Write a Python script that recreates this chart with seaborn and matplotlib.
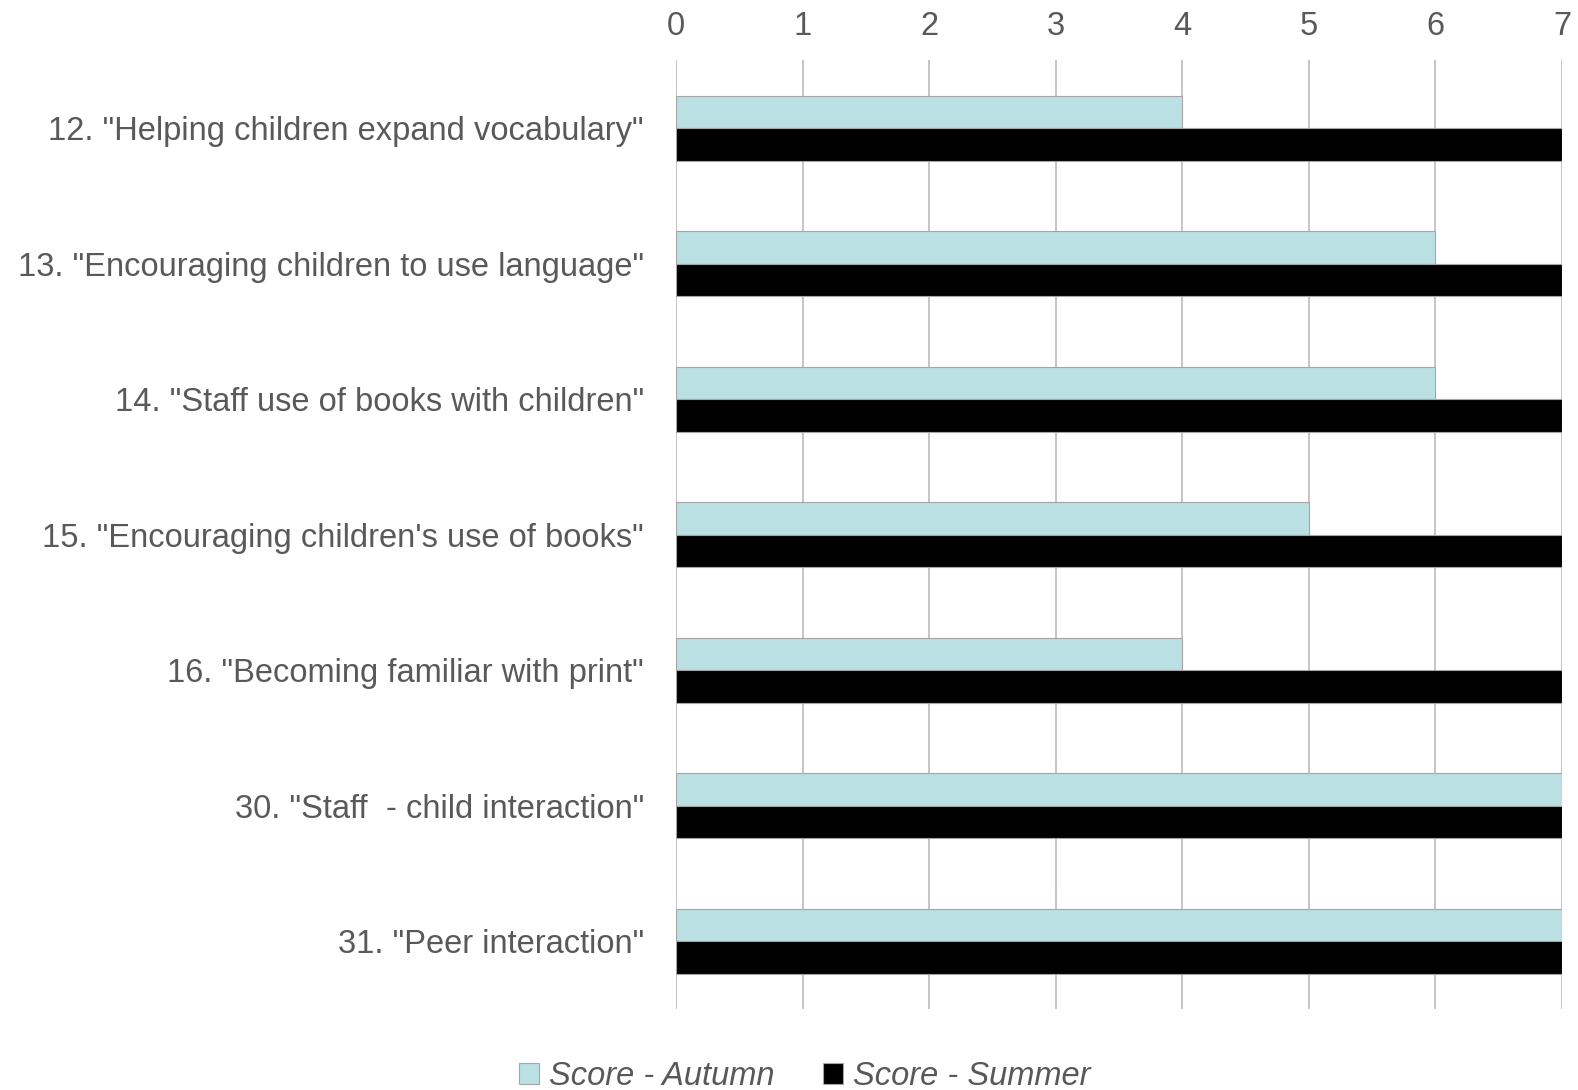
import matplotlib
matplotlib.use("Agg")
import matplotlib.pyplot as plt
import seaborn as sns
import pandas as pd

items = [
    '12. "Helping children expand vocabulary"',
    '13. "Encouraging children to use language"',
    '14. "Staff use of books with children"',
    '15. "Encouraging children\'s use of books"',
    '16. "Becoming familiar with print"',
    '30. "Staff  - child interaction"',
    '31. "Peer interaction"',
]
score_autumn = [4, 6, 6, 5, 4, 7, 7]
score_summer = [7, 7, 7, 7, 7, 7, 7]
series = ["Score - Autumn", "Score - Summer"]
x_ticks = [0, 1, 2, 3, 4, 5, 6, 7]

df = pd.DataFrame({
    "item": items * 2,
    "score": score_autumn + score_summer,
    "series": [series[0]] * len(items) + [series[1]] * len(items),
})

sns.set_theme(style="white")
plt.rcParams["font.family"] = ["Liberation Sans", "DejaVu Sans"]
text_color = "#595959"
autumn_color = "#BBE0E3"

fig = plt.figure(figsize=(15.78, 10.90), dpi=100)
ax = fig.add_axes([0.4284, 0.0743, 0.9899 - 0.4284, 0.9446 - 0.0743])

sns.barplot(
    data=df, y="item", x="score", hue="series", orient="h",
    palette={series[0]: autumn_color, series[1]: "#000000"},
    saturation=1, width=0.48, gap=0, edgecolor="#A5A5A5", linewidth=0.8,
    ax=ax, legend=False, zorder=3,
)

ax.set_xlim(0, 7)
ax.set_ylim(6.5, -0.5)
ax.set_xticks(x_ticks)
ax.xaxis.tick_top()
ax.xaxis.set_label_position("top")
ax.set_xlabel("")
ax.set_ylabel("")
ax.grid(axis="x", color="#C0C0C0", linewidth=1.3, zorder=0)
ax.grid(axis="y", visible=False)
for s in ax.spines.values():
    s.set_visible(False)
ax.tick_params(axis="x", length=0, pad=13, labelsize=23.5, labelcolor=text_color)
ax.tick_params(axis="y", length=0, pad=23, labelsize=23.5, labelcolor=text_color)

handles = [
    plt.Rectangle((0, 0), 1, 1, facecolor=autumn_color, edgecolor="#A5A5A5", linewidth=0.8),
    plt.Rectangle((0, 0), 1, 1, facecolor="#000000", edgecolor="#A5A5A5", linewidth=0.8),
]
leg = fig.legend(
    handles, series, loc="center", bbox_to_anchor=(0.510, 0.0125), ncol=2,
    frameon=False, handlelength=0.6, handleheight=0.6, handletextpad=0.3,
    columnspacing=1.5, prop={"size": 23.5, "style": "italic"},
)
for t in leg.get_texts():
    t.set_color(text_color)

fig.savefig("out.png", dpi=100)
